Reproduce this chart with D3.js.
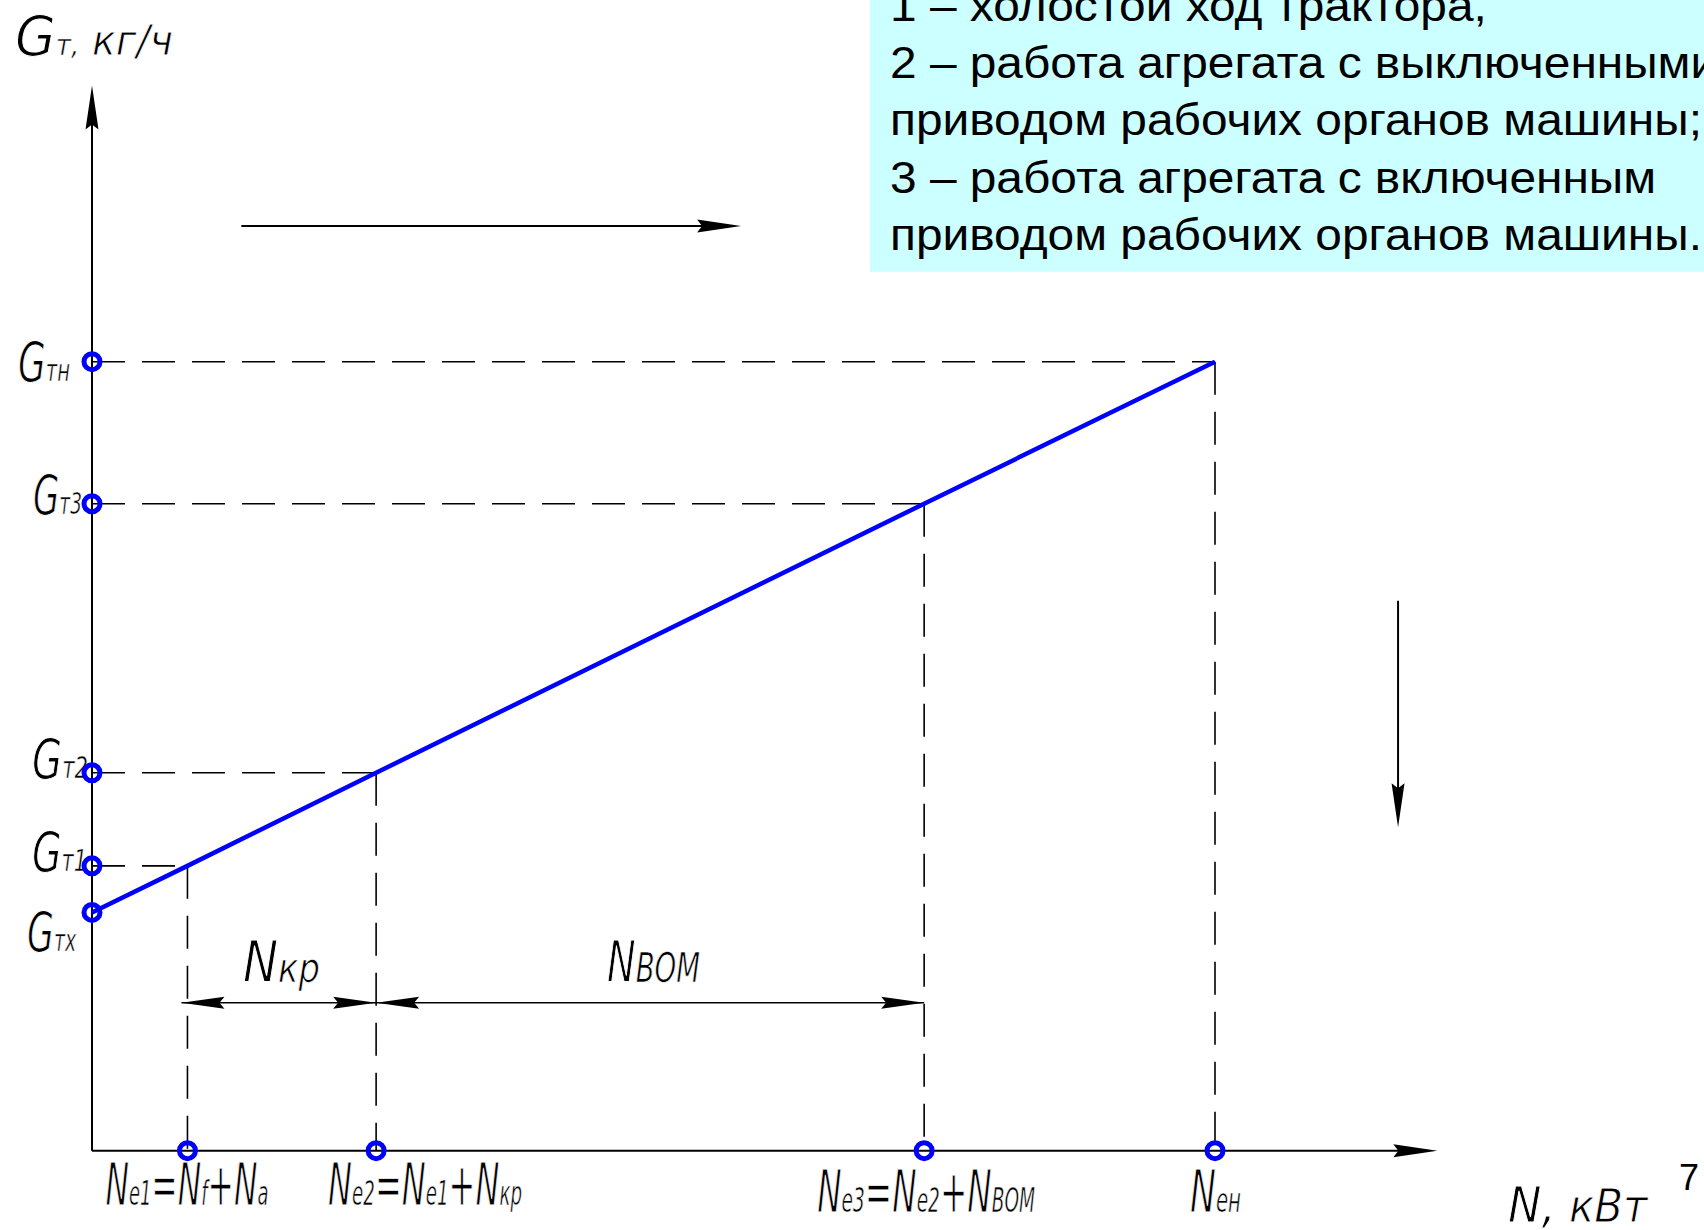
<!DOCTYPE html>
<html><head><meta charset="utf-8">
<script src="https://cdn.jsdelivr.net/npm/d3@7"></script>
<style>body{margin:0;background:#fff;overflow:hidden} svg{display:block}</style>
</head><body>
<svg id="c" width="1704" height="1230"></svg>
<script>
// ---------------- data ----------------
// power points on the N axis (relative units) and fuel-consumption points on the Gт axis
const powerNames  = ["Ne1", "Ne2", "Ne3", "Neh"];
const powerValues = [8.5, 25.3, 74.1, 100];
const fuelNames   = ["Gтх", "Gт1", "Gт2", "Gт3", "Gтн"];
const fuelValues  = [30.2, 36.1, 47.9, 82.0, 100];
// characteristic line Gт = f(N)
const linePower = [0, 8.5, 25.3, 74.1, 100];
const lineFuel  = [30.2, 36.1, 47.9, 82.0, 100];
// axis extents (arrow tips)
const axisMaxPower = 119.8;
const axisMaxFuel  = 135;
// label texts ([text, role] segments: b = main, s = subscript, m = medium)
const fuelLabels = [
  [["G","b"],["тх","s"]],
  [["G","b"],["т1","s"]],
  [["G","b"],["т2","s"]],
  [["G","b"],["т3","s"]],
  [["G","b"],["тн","s"]]
];
const powerLabels = [
  [["N","b"],["e1","s"],["=","b"],["N","b"],["f","s"],["+","b"],["N","b"],["a","s"]],
  [["N","b"],["e2","s"],["=","b"],["N","b"],["e1","s"],["+","b"],["N","b"],["кр","s"]],
  [["N","b"],["e3","s"],["=","b"],["N","b"],["e2","s"],["+","b"],["N","b"],["ВОМ","s"]],
  [["N","b"],["eн","s"]]
];
const yTitle = [["G","b"],["т,","s"],[" кг/ч","m"]];
const xTitle = [["N,","b"],[" кВт","m"]];
const spanLabels = [
  {from: 8.5, to: 25.3, text: [["N","b"],["кр","m"]]},
  {from: 25.3, to: 74.1, text: [["N","b"],["ВОМ","m"]]}
];
const legendLines = [
  "1 – холостой ход трактора,",
  "2 – работа агрегата с выключенными",
  "приводом рабочих органов машины;",
  "3 – работа агрегата с включенным",
  "приводом рабочих органов машины."
];
const pageNumber = "7";

// ---------------- layout ----------------
const svg = d3.select("#c");
const x = d3.scaleLinear().domain([0, 100]).range([92, 1215]);
const y = d3.scaleLinear().domain([0, 100]).range([1150.7, 361.7]);
const BLUE = "#0000ff";
const FONT = "'Liberation Sans Narrow','DejaVu Sans Condensed','Liberation Sans',sans-serif";

// arrowhead path pointing in +x direction, tip at origin
function headPath(len, hw) {
  return `M0,0 L${-len},${-hw} L${-len + 5},0 L${-len},${hw} Z`;
}
function arrowHead(g, px, py, angleDeg, len = 44, hw = 6.5) {
  g.append("path").attr("d", headPath(len, hw))
    .attr("transform", `translate(${px},${py}) rotate(${angleDeg})`)
    .attr("fill", "#000");
}

// legend box
const lg = svg.append("g");
lg.append("rect").attr("x", 870).attr("y", -10).attr("width", 900).attr("height", 281.7)
  .attr("fill", "#ccffff");
const legendTexts = lg.selectAll("text.leg").data(legendLines).join("text")
  .attr("class", "leg")
  .attr("x", 890).attr("y", (d, i) => 20.5 + i * 57.5)
  .attr("font-family", "'Liberation Sans',Arial,sans-serif")
  .attr("font-size", 45).attr("fill", "#000")
  .text(d => d);
{
  const w = legendTexts.nodes()[2].getComputedTextLength();
  const s = 812 / w;
  legendTexts.attr("transform", `translate(890,0) scale(${s},1) translate(-890,0)`);
}

// labels (drawn before marks so the thinning halo never covers lines)
const labelLayer = svg.append("g");
function label(segs, sizes, left, baseline, targetW) {
  const t = labelLayer.append("text").attr("font-family", FONT).attr("font-style", "italic")
    .attr("fill", "#000").attr("stroke", "#fff")
    .attr("x", 0).attr("y", 0);
  segs.forEach(([s, k]) => t.append("tspan").attr("font-size", sizes[k])
    .attr("stroke-width", sizes[k] * 0.018).text(s));
  const bb = t.node().getBBox();
  const s = targetW / bb.width;
  t.attr("transform", `translate(${left - bb.x * s},${baseline}) scale(${s},1)`);
  return t;
}
const ySizes = {b: 55, s: 30, m: 40};
const xSizes = {b: 58, s: 33, m: 40};
const fuelLabelPos = [[27, 39, 50], [32, 5, 55], [32, 5, 56], [33, 10, 49], [18, 19, 52]];
fuelLabels.forEach((segs, i) => {
  const p = fuelLabelPos[i];
  label(segs, ySizes, p[0], y(fuelValues[i]) + p[1], p[2]);
});
const powerLabelPos = [[-82, 1205, 163], [-48, 1205, 194], [-107, 1212, 218], [-25, 1212, 51]];
powerLabels.forEach((segs, i) => {
  const p = powerLabelPos[i];
  label(segs, xSizes, x(powerValues[i]) + p[0], p[1], p[2]);
});
const spanPos = [[243, 77], [607, 93]];
spanLabels.forEach((s, i) => label(s.text, {b: 57, m: 41}, spanPos[i][0], 982, spanPos[i][1]));
label(yTitle, {b: 56, s: 28, m: 42}, 15, 55, 158);
label(xTitle, {b: 50, m: 47}, 1508, 1222, 141);

// dashed guide lines
const guides = svg.append("g").attr("stroke", "#000").attr("stroke-width", 1.6)
  .attr("stroke-dasharray", "33,17").attr("fill", "none");
linePower.forEach((p, i) => {
  if (i === 0) return;
  guides.append("line").attr("x1", x(0)).attr("y1", y(lineFuel[i]))
    .attr("x2", x(p)).attr("y2", y(lineFuel[i]));
  guides.append("line").attr("x1", x(p)).attr("y1", y(lineFuel[i]))
    .attr("x2", x(p)).attr("y2", y(0));
});

// axes
const ax = svg.append("g");
ax.append("line").attr("x1", x(0)).attr("y1", y(0)).attr("x2", x(0)).attr("y2", y(axisMaxFuel) + 10)
  .attr("stroke", "#000").attr("stroke-width", 2);
arrowHead(ax, x(0), y(axisMaxFuel), -90);
ax.append("line").attr("x1", x(0)).attr("y1", y(0)).attr("x2", x(axisMaxPower) - 10).attr("y2", y(0))
  .attr("stroke", "#000").attr("stroke-width", 2);
arrowHead(ax, x(axisMaxPower), y(0), 0);

// direction arrows (annotation)
const dirArrows = [
  {x1: 13.3, y1: 117.2, x2: 57.8, y2: 117.2},
  {x1: 116.3, y1: 69.7, x2: 116.3, y2: 41.0}
];
dirArrows.forEach(a => {
  const X1 = x(a.x1), Y1 = y(a.y1), X2 = x(a.x2), Y2 = y(a.y2);
  const ang = Math.atan2(Y2 - Y1, X2 - X1) * 180 / Math.PI;
  svg.append("line").attr("x1", X1).attr("y1", Y1)
    .attr("x2", X2 - 10 * Math.cos(ang * Math.PI / 180)).attr("y2", Y2 - 10 * Math.sin(ang * Math.PI / 180))
    .attr("stroke", "#000").attr("stroke-width", 2);
  arrowHead(svg, X2, Y2, ang);
});

// dimension lines
const dimY = 1002.7;
const dim = svg.append("g");
dim.append("line").attr("x1", x(spanLabels[0].from) - 6).attr("x2", x(spanLabels[1].to))
  .attr("y1", dimY).attr("y2", dimY).attr("stroke", "#000").attr("stroke-width", 1.6);
spanLabels.forEach((s, i) => {
  const a = x(s.from) - (i === 0 ? 6 : 0), b = x(s.to);
  arrowHead(dim, a, dimY, 180, 43, 6);
  arrowHead(dim, b, dimY, 0, 43, 6);
});

// blue characteristic line
svg.append("path")
  .datum(linePower.map((p, i) => [p, lineFuel[i]]))
  .attr("d", d3.line().x(d => x(d[0])).y(d => y(d[1])))
  .attr("stroke", BLUE).attr("stroke-width", 4.5).attr("fill", "none");

// markers
const mk = svg.append("g").attr("fill", "none").attr("stroke", BLUE).attr("stroke-width", 5);
fuelValues.forEach(v => mk.append("circle").attr("cx", x(0)).attr("cy", y(v)).attr("r", 8));
powerValues.forEach(v => mk.append("circle").attr("cx", x(v)).attr("cy", y(0)).attr("r", 8));

// page number
svg.append("text").attr("x", 1679).attr("y", 1190)
  .attr("font-family", "'Liberation Sans',Arial,sans-serif").attr("font-size", 36)
  .attr("fill", "#000").text(pageNumber);
</script>
</body></html>
